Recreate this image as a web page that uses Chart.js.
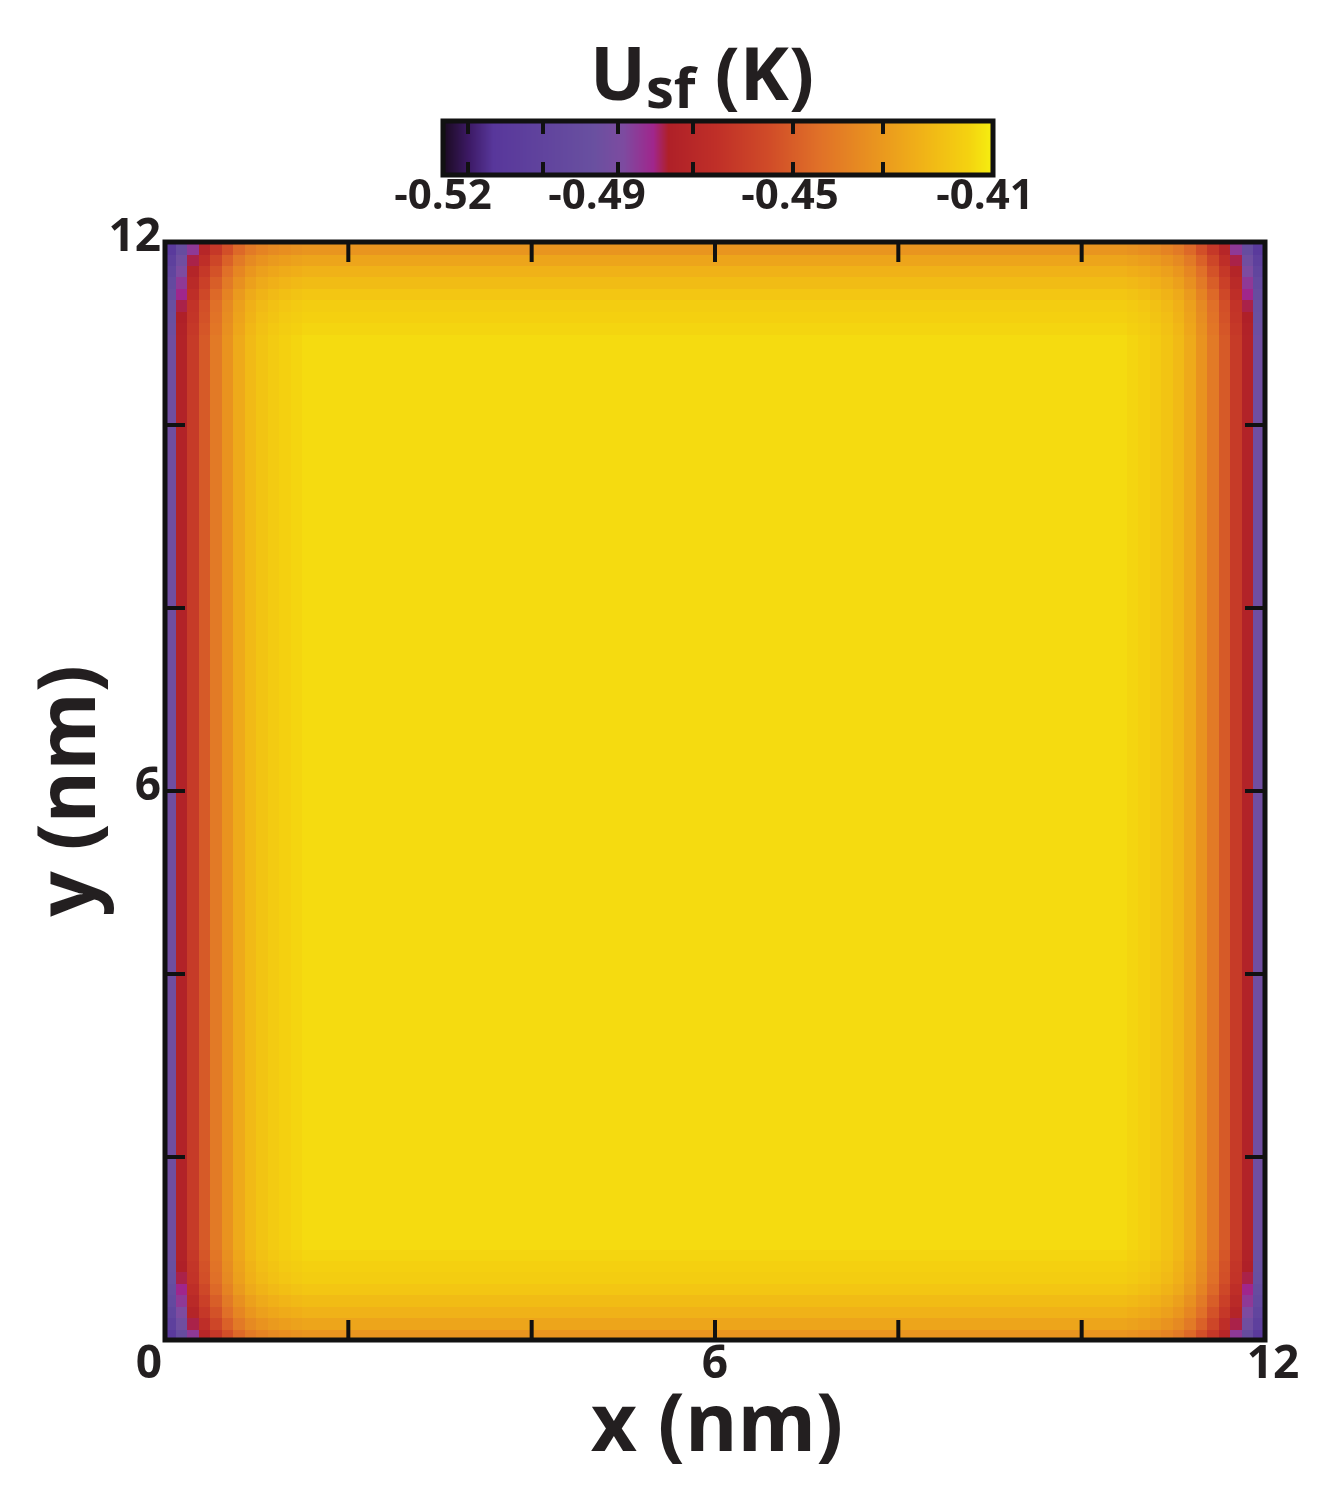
<!DOCTYPE html>
<html>
<head>
<meta charset="utf-8">
<script src="https://cdn.jsdelivr.net/npm/chart.js@4.4.1/dist/chart.umd.min.js"></script>
<style>
  html, body { margin: 0; padding: 0; background: #fff; }
  #wrap { width: 1322px; height: 1506px; }
</style>
</head>
<body>
<div id="wrap"><canvas id="usf-chart"></canvas></div>
<script>
// grid: 96 x 96 cells over 12 nm
const nCells = 96;
const cellSize = 12 / nCells;
// value vs. distance (in cells) from the side walls
const sideWallProfile = [-0.488, -0.473, -0.461, -0.451, -0.442, -0.434, -0.427, -0.422,
    -0.419, -0.417, -0.4155, -0.4145];
// extra change vs. distance from the top / bottom walls
const endWallOffset = [-0.02, -0.015, -0.011, -0.008, -0.005, -0.003, -0.002, -0.001, 0];
const interiorValue = -0.4135;
const xTicks = [0, 2, 4, 6, 8, 10, 12];
const xTickLabels = ["0", "", "", "6", "", "", "12"];
const yTicks = [0, 2, 4, 6, 8, 10, 12];
const yTickLabels = ["0", "", "", "6", "", "", "12"];
const colorbarLabels = [-0.52, -0.49, -0.45, -0.41];
const colorbarTicks = [-0.515, -0.5, -0.485, -0.47, -0.45, -0.432];
const vMin = -0.52, vMax = -0.41;
const colorStops = [
    [-0.52, [26, 10, 32]], [-0.515, [60, 25, 100]], [-0.51, [88, 55, 155]],
    [-0.49, [105, 80, 160]], [-0.484, [125, 75, 160]], [-0.478, [160, 38, 140]],
    [-0.475, [175, 32, 40]], [-0.465, [192, 48, 40]], [-0.455, [208, 75, 40]],
    [-0.445, [224, 112, 40]], [-0.435, [232, 144, 32]], [-0.425, [240, 176, 24]],
    [-0.415, [244, 210, 16]], [-0.41, [246, 240, 16]]
];

function colorFor(v) {
    if (v <= colorStops[0][0]) return "rgb(" + colorStops[0][1].join(",") + ")";
    for (let k = 1; k < colorStops.length; k++) {
        if (v <= colorStops[k][0]) {
            const a = colorStops[k - 1], b = colorStops[k];
            const t = (v - a[0]) / (b[0] - a[0]);
            const c = a[1].map((ch, idx) => Math.round(ch + t * (b[1][idx] - ch)));
            return "rgb(" + c.join(",") + ")";
        }
    }
    return "rgb(" + colorStops[colorStops.length - 1][1].join(",") + ")";
}

const cells = [];
for (let i = 0; i < nCells; i++) {
    for (let j = 0; j < nCells; j++) {
        const dx = Math.min(i, nCells - 1 - i);
        const dy = Math.min(j, nCells - 1 - j);
        const base = dx < sideWallProfile.length ? sideWallProfile[dx] : interiorValue;
        const off = dy < endWallOffset.length ? endWallOffset[dy] : 0;
        cells.push({ x: (i + 0.5) * cellSize, y: (j + 0.5) * cellSize, v: base + off });
    }
}

const FONT = "'Open Sans', 'DejaVu Sans', sans-serif";
const TEXT = "#231f20";

const heatmapPlugin = {
    id: "heatmap",
    beforeDatasetsDraw(chart) {
        const { ctx, scales: { x, y } } = chart;
        ctx.save();
        cells.forEach((c) => {
            const x0 = x.getPixelForValue(c.x - cellSize / 2);
            const x1 = x.getPixelForValue(c.x + cellSize / 2);
            const y0 = y.getPixelForValue(c.y + cellSize / 2);
            const y1 = y.getPixelForValue(c.y - cellSize / 2);
            ctx.fillStyle = colorFor(c.v);
            ctx.fillRect(Math.floor(x0), Math.floor(y0), Math.ceil(x1 - x0) + 1, Math.ceil(y1 - y0) + 1);
        });
        ctx.restore();
    },
    afterDraw(chart) {
        const { ctx, chartArea: a, scales: { x, y } } = chart;
        ctx.save();
        // frame
        ctx.strokeStyle = "#111";
        ctx.lineWidth = 5;
        ctx.strokeRect(a.left, a.top, a.right - a.left, a.bottom - a.top);
        // inward ticks
        ctx.lineWidth = 4;
        xTicks.forEach((t) => {
            const px = x.getPixelForValue(t);
            ctx.beginPath();
            ctx.moveTo(px, a.bottom); ctx.lineTo(px, a.bottom - 20);
            ctx.moveTo(px, a.top); ctx.lineTo(px, a.top + 20);
            ctx.stroke();
        });
        yTicks.forEach((t) => {
            const py = y.getPixelForValue(t);
            ctx.beginPath();
            ctx.moveTo(a.left, py); ctx.lineTo(a.left + 20, py);
            ctx.moveTo(a.right, py); ctx.lineTo(a.right - 20, py);
            ctx.stroke();
        });
        // tick labels
        ctx.fillStyle = TEXT;
        ctx.font = "bold 46px " + FONT;
        ctx.textBaseline = "top";
        ctx.textAlign = "center";
        xTicks.forEach((t, k) => {
            if (!xTickLabels[k]) return;
            let px = x.getPixelForValue(t);
            if (t === 0) px -= 16;
            if (t === 12) px += 8;
            ctx.fillText(xTickLabels[k], px, a.bottom + 2);
        });
        ctx.textAlign = "right";
        ctx.textBaseline = "middle";
        yTicks.forEach((t, k) => {
            if (!yTickLabels[k] || t === 0) return;
            ctx.fillText(yTickLabels[k], a.left - 4, y.getPixelForValue(t) - 4);
        });
        // axis titles
        ctx.font = "bold 80px " + FONT;
        ctx.textAlign = "center";
        ctx.textBaseline = "middle";
        ctx.fillText("x (nm)", (a.left + a.right) / 2 + 2, 1428);
        ctx.save();
        ctx.translate(72, (a.top + a.bottom) / 2);
        ctx.rotate(-Math.PI / 2);
        ctx.fillText("y (nm)", 0, 0);
        ctx.restore();
        // colorbar
        const cbL = 443, cbR = 993, cbT = 121, cbB = 175;
        const cbX = (v) => cbL + (v - vMin) / (vMax - vMin) * (cbR - cbL);
        for (let px = cbL; px < cbR; px++) {
            const v = vMin + (px - cbL) / (cbR - cbL) * (vMax - vMin);
            ctx.fillStyle = colorFor(v);
            ctx.fillRect(px, cbT, 1.5, cbB - cbT);
        }
        ctx.strokeStyle = "#111";
        ctx.lineWidth = 5;
        ctx.strokeRect(cbL, cbT, cbR - cbL, cbB - cbT);
        ctx.lineWidth = 4;
        colorbarTicks.forEach((v) => {
            const px = cbX(v);
            ctx.beginPath();
            ctx.moveTo(px, cbT); ctx.lineTo(px, cbT + 13);
            ctx.moveTo(px, cbB); ctx.lineTo(px, cbB - 13);
            ctx.stroke();
        });
        ctx.fillStyle = TEXT;
        ctx.font = "bold 42px " + FONT;
        ctx.textBaseline = "top";
        ctx.textAlign = "center";
        const labelPos = [443, 597, 790, 985];
        colorbarLabels.forEach((v, k) => {
            ctx.fillText(v.toFixed(2), labelPos[k], 176);
        });
        // colorbar title
        ctx.textAlign = "left";
        ctx.textBaseline = "alphabetic";
        ctx.font = "bold 74px " + FONT;
        ctx.fillText("U", 590, 100);
        const uw = ctx.measureText("U").width;
        ctx.font = "bold 56px " + FONT;
        ctx.fillText("sf", 590 + uw, 108);
        const sw = ctx.measureText("sf").width;
        ctx.font = "bold 74px " + FONT;
        ctx.fillText(" (K)", 590 + uw + sw, 100);
        ctx.restore();
    }
};

const usfContext = document.getElementById("usf-chart");

const usfConfig = {
    type: "scatter",
    data: { datasets: [{ data: [], pointRadius: 0 }] },
    options: {
        responsive: true,
        maintainAspectRatio: false,
        animation: false,
        layout: { padding: { left: 165, right: 57, top: 242, bottom: 166 } },
        plugins: { legend: { display: false }, tooltip: { enabled: false } },
        scales: {
            x: { type: "linear", min: 0, max: 12, display: false },
            y: { type: "linear", min: 0, max: 12, display: false },
        },
    },
    plugins: [heatmapPlugin],
};

const usfChart = new Chart(usfContext, usfConfig);
</script>
</body>
</html>
